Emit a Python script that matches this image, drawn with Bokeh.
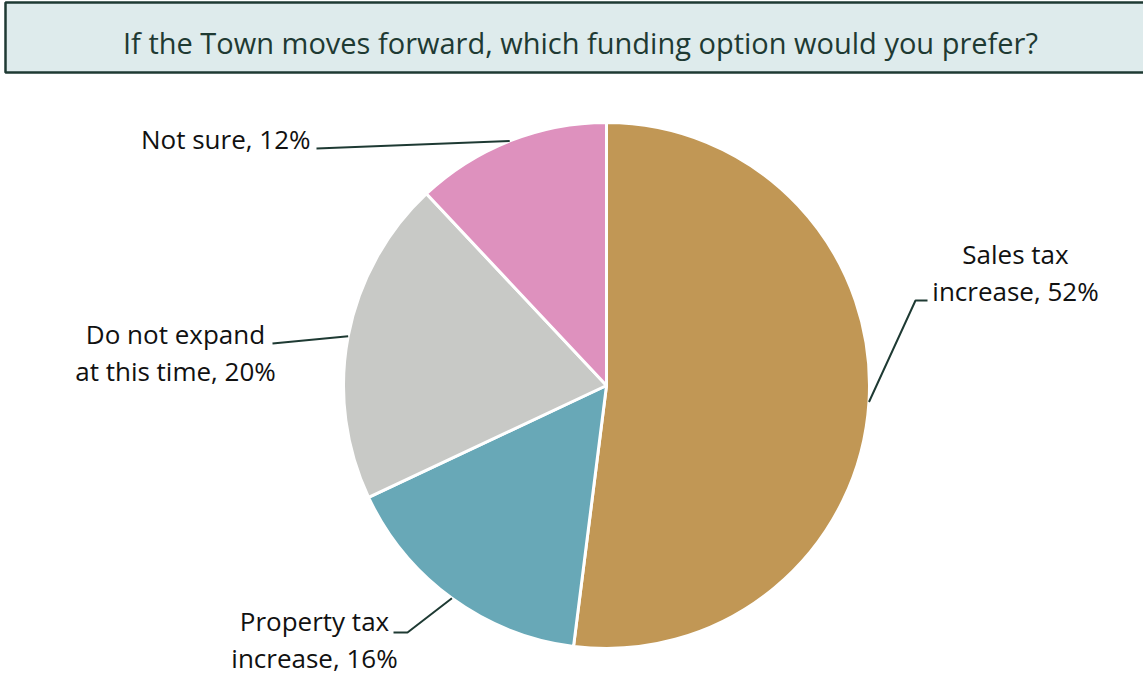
import numpy as np
from bokeh.plotting import figure
from bokeh.models import Range1d, ColumnDataSource
from bokeh.core.properties import value
from bokeh.embed import file_html
from bokeh.resources import INLINE

# ---- data ----
title = "If the Town moves forward, which funding option would you prefer?"
categories = ["Sales tax increase", "Property tax increase", "Do not expand at this time", "Not sure"]
label_texts = ["Sales tax\nincrease, 52%", "Property tax\nincrease, 16%", "Do not expand\nat this time, 20%", "Not sure, 12%"]
shares = [52, 16, 20, 12]
colors = ["#C19755", "#68A8B7", "#C8C9C6", "#DE91BE"]

# ---- layout (data x = screen x, data y = 678 - screen y) ----
W, H = 1143, 678
p = figure(width=W, height=H, output_backend="svg", toolbar_location=None,
           x_range=Range1d(0, W), y_range=Range1d(0, H),
           min_border=0, outline_line_color=None)
p.axis.visible = False
p.grid.visible = False
p.background_fill_color = "white"
p.border_fill_color = "white"

def Y(sy):
    return H - sy

# title box
p.quad(left=[5], right=[1160], top=[Y(2)], bottom=[Y(72)],
       fill_color="#DEEBEC", line_color="#1E3A33", line_width=2.5)
p.text(x=[580], y=[Y(42)], text=[title], text_font=value("Open Sans"),
       text_font_size="29px", text_color="#1E3A33",
       text_align="center", text_baseline="middle")

# pie
cx, cy, r = 606, Y(385), 263
fr = np.array(shares, dtype=float) / sum(shares)
cum = np.concatenate([[0], np.cumsum(fr)])
start_deg = 90 - cum[1:] * 360
end_deg = 90 - cum[:-1] * 360
src = ColumnDataSource(dict(start=np.radians(start_deg), end=np.radians(end_deg),
                            color=colors, cat=categories))
p.wedge(x=cx, y=cy, radius=r, start_angle="start", end_angle="end",
        fill_color="color", line_color="white", line_width=3, source=src)

# leader lines: from slice edge at mid-angle to label anchors
mid = np.radians((start_deg + end_deg) / 2)
ex = cx + r * np.cos(mid)
ey = cy + r * np.sin(mid)
anchors = [
    [(915, Y(300)), (927, Y(300))],
    [(407, Y(632)), (393, Y(632))],
    [(272, Y(343))],
    [(316, Y(148))],
]
xs, ys = [], []
for i, pts in enumerate(anchors):
    xs.append([ex[i]] + [q[0] for q in pts])
    ys.append([ey[i]] + [q[1] for q in pts])
p.multi_line(xs=xs, ys=ys, line_color="#1E3A33", line_width=2)

# labels
lab_x = [1015, 314, 175, 310]
lab_y = [Y(272), Y(639), Y(352), Y(138)]
lab_align = ["center", "center", "center", "right"]
for i in range(4):
    p.text(x=[lab_x[i]], y=[lab_y[i]], text=[label_texts[i]],
           text_font=value("Open Sans"), text_font_size="26px",
           text_color="#111111", text_align=lab_align[i],
           text_baseline="middle", text_line_height=1.05)

open("out.html", "w").write(file_html(p, INLINE))
